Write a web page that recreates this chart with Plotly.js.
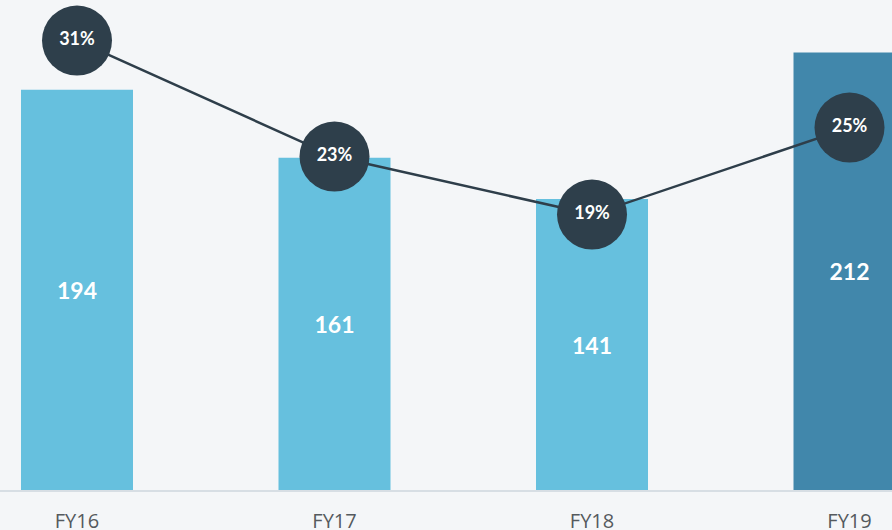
<!DOCTYPE html>
<html>
<head>
<meta charset="utf-8">
<script src="https://cdn.plot.ly/plotly-3.0.1.min.js"></script>
<style>html,body{margin:0;padding:0;background:#f4f6f8;}</style>
</head>
<body>
<div id="chart" style="width:892px;height:530px;"></div>
<script>
const categories = ["FY16", "FY17", "FY18", "FY19"];
const barValues = [194, 161, 141, 212];
const barColors = ["#66c0de", "#66c0de", "#66c0de", "#4187ab"];
const marginPct = [31, 23, 19, 25];
const marginLabels = marginPct.map(v => v + "%");

const bars = {
  type: "bar",
  x: categories,
  y: barValues,
  text: barValues.map(String),
  textposition: "inside",
  insidetextanchor: "middle",
  textfont: {family: "Lato, 'Open Sans', sans-serif", size: 23, color: "#ffffff", weight: "bold"},
  marker: {color: barColors},
  width: 0.435,
  hoverinfo: "none",
  showlegend: false
};

const line = {
  type: "scatter",
  mode: "lines+markers+text",
  x: categories,
  y: marginPct,
  yaxis: "y2",
  text: marginLabels,
  textposition: "middle center",
  textfont: {family: "Lato, 'Open Sans', sans-serif", size: 18, color: "#ffffff", weight: "bold"},
  line: {color: "#2e3e4a", width: 2.5},
  marker: {size: 70, color: "#2e3f4b"},
  cliponaxis: false,
  hoverinfo: "none",
  showlegend: false
};

const layout = {
  width: 892,
  height: 530,
  margin: {l: 0, r: 0, t: 0, b: 40},
  paper_bgcolor: "#f4f6f8",
  plot_bgcolor: "#f4f6f8",
  xaxis: {
    type: "category",
    range: [-0.299, 3.165],
    showgrid: false,
    zeroline: false,
    showline: true,
    linecolor: "#d7dee4",
    linewidth: 2,
    ticks: "",
    ticklabelstandoff: 12,
    tickfont: {family: "'Open Sans', Lato, sans-serif", size: 20, color: "#555a5e"}
  },
  yaxis: {
    range: [0, 237.5],
    showgrid: false,
    zeroline: false,
    showticklabels: false,
    showline: false
  },
  yaxis2: {
    overlaying: "y",
    range: [0, 33.8],
    showgrid: false,
    zeroline: false,
    showticklabels: false,
    showline: false
  }
};

Plotly.newPlot("chart", [bars, line], layout, {displayModeBar: false, staticPlot: true});
</script>
</body>
</html>
